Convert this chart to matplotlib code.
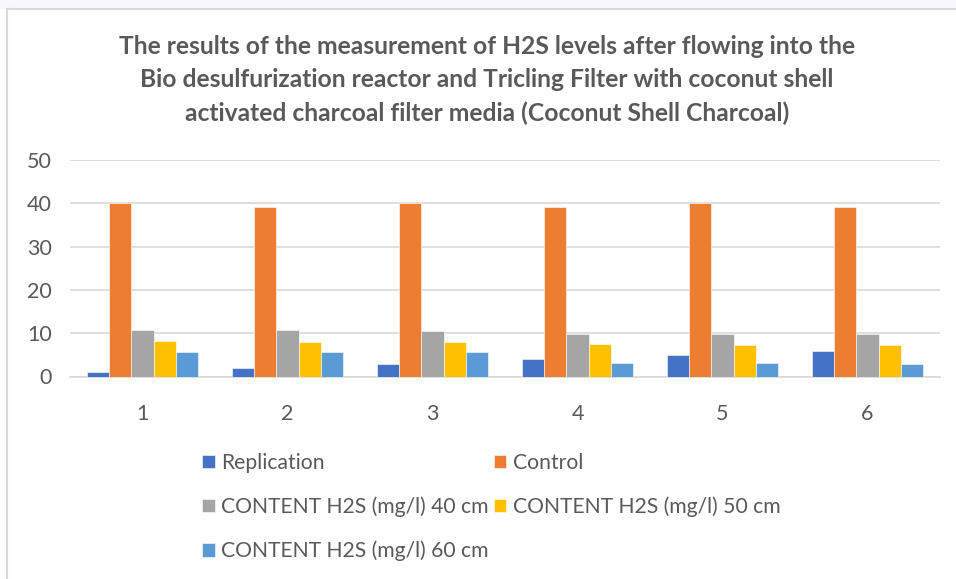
import matplotlib.pyplot as plt
import numpy as np

plt.rcParams['font.family'] = ['Lato', 'DejaVu Sans']

categories = ['1', '2', '3', '4', '5', '6']
replication = [1, 2, 3, 4, 5, 6]
control = [40, 39.1, 40, 39.1, 40, 39.1]
h2s_40 = [10.8, 10.8, 10.6, 9.7, 9.9, 9.7]
h2s_50 = [8.1, 8.0, 8.0, 7.4, 7.3, 7.3]
h2s_60 = [5.7, 5.7, 5.7, 3.2, 3.2, 3.0]

series = [
    ('Replication', replication, '#4472c4'),
    ('Control', control, '#ed7d31'),
    ('CONTENT H2S (mg/l) 40 cm', h2s_40, '#a5a5a5'),
    ('CONTENT H2S (mg/l) 50 cm', h2s_50, '#ffc000'),
    ('CONTENT H2S (mg/l) 60 cm', h2s_60, '#5b9bd5'),
]

fig = plt.figure(figsize=(9.56, 5.79), dpi=100)
fig.patch.set_facecolor('white')

# light band and frame like the screenshot
fig.patches.append(plt.Rectangle((0, 1 - 9/579), 1, 9/579, transform=fig.transFigure,
                                 facecolor='#f7f8fa', edgecolor='none', zorder=0))
fig.add_artist(plt.Line2D([7/956, 7/956], [0, 1 - 9/579], color='#d9d9d9', lw=1.5,
                          transform=fig.transFigure))
fig.add_artist(plt.Line2D([7/956, 1], [1 - 9/579, 1 - 9/579], color='#d9d9d9', lw=1.5,
                          transform=fig.transFigure))

ax = fig.add_axes([70/956, 1 - 376.5/579, 870/956, 216.5/579])

x = np.arange(len(categories))
bw = 0.153
for i, (name, vals, col) in enumerate(series):
    ax.bar(x + (i - 2) * bw, vals, bw, color=col, label=name, zorder=3,
           edgecolor='white', linewidth=0.4)

ax.set_xlim(-0.5, len(categories) - 0.5)
ax.set_ylim(0, 50)
ax.set_yticks([0, 10, 20, 30, 40, 50])
ax.set_xticks(x)
ax.set_xticklabels(categories)
ax.grid(axis='y', color='#d9d9d9', lw=1.2, zorder=0)
for s in ['top', 'right', 'left']:
    ax.spines[s].set_visible(False)
ax.spines['bottom'].set_color('#d9d9d9')
ax.spines['bottom'].set_linewidth(1.2)
ax.tick_params(axis='both', length=0, labelsize=15.5, colors='#595959')
ax.tick_params(axis='y', pad=13)
ax.tick_params(axis='x', pad=20)

fig.text(487/956, 1 - 80/579,
         'The results of the measurement of H2S levels after flowing into the\n'
         'Bio desulfurization reactor and Tricling Filter with coconut shell\n'
         'activated charcoal filter media (Coconut Shell Charcoal)',
         ha='center', va='center', fontsize=17.7, fontweight='bold', color='#595959',
         linespacing=1.52)

handles, labels = ax.get_legend_handles_labels()
order = [0, 2, 4, 1, 3]
fig.legend([handles[k] for k in order], [labels[k] for k in order], ncol=2,
           loc='upper left', bbox_to_anchor=(183/956, 1 - 434/579), frameon=False,
           fontsize=15.2, labelcolor='#595959', handlelength=0.6, handleheight=0.6,
           handletextpad=0.3, columnspacing=0.25, labelspacing=1.12)

fig.savefig('out.png', dpi=100)
